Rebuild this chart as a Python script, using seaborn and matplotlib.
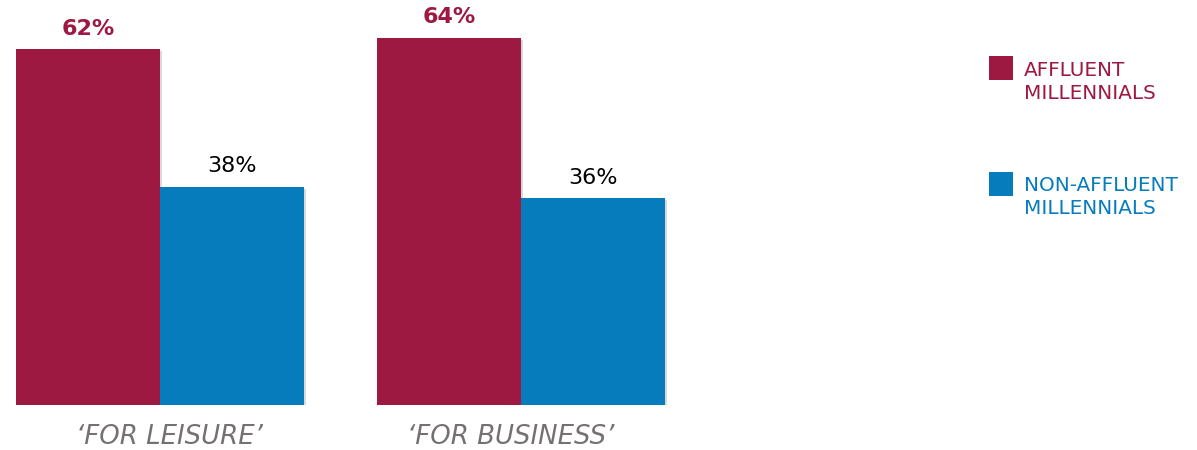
import matplotlib
matplotlib.use("Agg")
import matplotlib.pyplot as plt
import matplotlib.patheffects as pe
import matplotlib.transforms as mtrans
from matplotlib.patches import Rectangle
import seaborn as sns
import pandas as pd

categories = ["\u2018FOR LEISURE\u2019", "\u2018FOR BUSINESS\u2019"]
series_names = ["AFFLUENT\nMILLENNIALS", "NON-AFFLUENT\nMILLENNIALS"]
affluent = [62, 64]
non_affluent = [38, 36]
colors = ["#9E1942", "#067CBD"]

sns.set_style("white")
plt.rcParams["font.family"] = ["DejaVu Sans"]

rows = []
for c, a, n in zip(categories, affluent, non_affluent):
    rows.append({"cat": c, "grp": series_names[0], "val": a})
    rows.append({"cat": c, "grp": series_names[1], "val": n})
df = pd.DataFrame(rows)

fig = plt.figure(figsize=(11.97, 4.5), dpi=100)
ax = fig.add_axes([0, 45 / 450, 1, 405 / 450])

sns.barplot(data=df, x="cat", y="val", hue="grp", order=categories,
            hue_order=series_names, palette=colors, width=0.8,
            saturation=1, legend=False, ax=ax, errorbar=None)

shadow = [pe.SimplePatchShadow(offset=(1.5, -1.5), shadow_rgbFace="#000000", alpha=0.15),
          pe.Normal()]
for p in ax.patches:
    p.set_edgecolor("none")
    p.set_path_effects(shadow)

ax.set_xlim(-160 / 361, (1197 - 160) / 361)
ax.set_ylim(0, 405 / 5.74)

c0, c1 = ax.containers[0], ax.containers[1]
ax.bar_label(c0, labels=[f"{v}%" for v in affluent], padding=7.5,
             fontsize=16, fontweight="bold", color=colors[0])
ax.bar_label(c1, labels=[f"{v}%" for v in non_affluent], padding=7.5,
             fontsize=16, color="black")

ax.set_xlabel("")
ax.set_ylabel("")
ax.set_yticks([])
ax.tick_params(axis="x", length=0, pad=14)
shifts = [9, -10]
for lbl, dx in zip(ax.get_xticklabels(), shifts):
    lbl.set_fontsize(18.7)
    lbl.set_fontstyle("italic")
    lbl.set_color("#767171")
    lbl.set_transform(lbl.get_transform() +
                      mtrans.ScaledTranslation(dx / 100, 0, fig.dpi_scale_trans))
for s in ax.spines.values():
    s.set_visible(False)

# legend
W, H = 1197, 450
sq_tops = [56, 172]
txt_tops = [61, 176]
for name, col, st, tt in zip(series_names, colors, sq_tops, txt_tops):
    fig.add_artist(Rectangle((989 / W, 1 - (st + 24) / H), 24 / W, 24 / H,
                             transform=fig.transFigure, facecolor=col,
                             edgecolor="none"))
    fig.text(1024 / W, 1 - tt / H, name, color=col, fontsize=14.4,
             va="top", ha="left", linespacing=1.25)

fig.savefig("out.png", dpi=100, facecolor="white")
